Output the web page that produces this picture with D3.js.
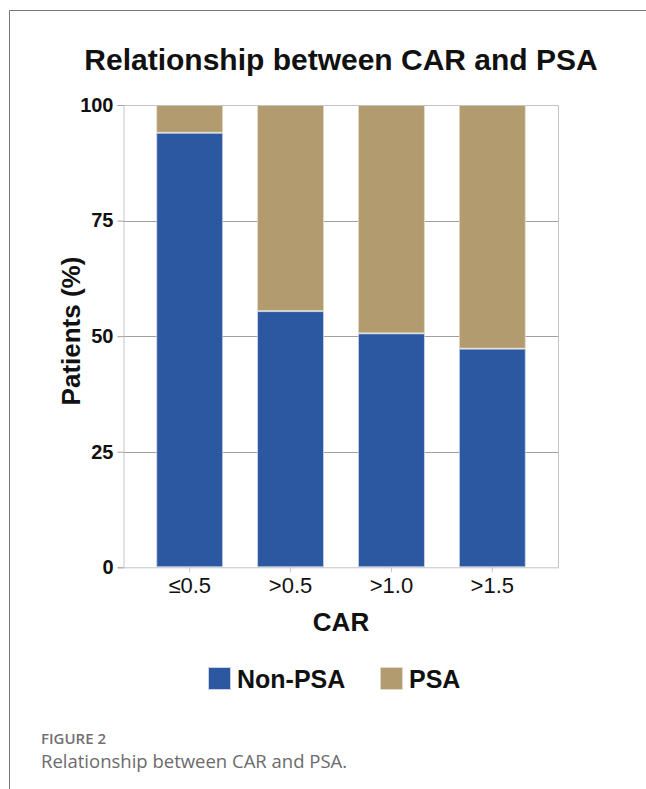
<!DOCTYPE html>
<html><head><meta charset="utf-8">
<script src="https://cdn.jsdelivr.net/npm/d3@7"></script>
<style>html,body{margin:0;padding:0;background:#fff;}svg{display:block;}</style>
</head><body><svg id="c" width="646" height="789"></svg>
<script>
const categories = ["≤0.5", ">0.5", ">1.0", ">1.5"];
const nonPSA = [94.0, 55.4, 50.6, 47.3];
const psa = [6.0, 44.6, 49.4, 52.7];
const seriesNames = ["Non-PSA", "PSA"];
const yTicks = [0, 25, 50, 75, 100];

const colors = {"Non-PSA": "#2c58a1", "PSA": "#b39b70"};
const strokes = {"Non-PSA": "#c9d3e6", "PSA": "#e2d9c6"};

const svg = d3.select("#c");
const L = 123, R = 559, T = 105, B = 567.3;
const font = "'Liberation Sans', Arial, sans-serif";

// frame
svg.append("line").attr("x1", 9.5).attr("x2", 646).attr("y1", 10.5).attr("y2", 10.5).attr("stroke", "#777").attr("stroke-width", 1);
svg.append("line").attr("x1", 9.5).attr("x2", 9.5).attr("y1", 10.5).attr("y2", 789).attr("stroke", "#777").attr("stroke-width", 1);

const x = d3.scaleBand().domain(categories).range([L, R]).paddingInner(0.337).paddingOuter(0.33);
const y = d3.scaleLinear().domain([0, 100]).range([B, T]);

// gridlines
svg.append("g").selectAll("line").data(yTicks.filter(v => v > 0 && v < 100)).join("line")
  .attr("x1", L).attr("x2", R).attr("y1", d => Math.round(y(d)) + 0.5).attr("y2", d => Math.round(y(d)) + 0.5)
  .attr("stroke", "#a0a0a0").attr("stroke-width", 1);

// stacked data
const rows = categories.map((c, i) => ({cat: c, "Non-PSA": nonPSA[i], "PSA": psa[i]}));
const stack = d3.stack().keys(seriesNames)(rows);
svg.append("g").selectAll("g").data(stack).join("g")
  .attr("fill", d => colors[d.key]).attr("stroke", d => strokes[d.key]).attr("stroke-width", 0.8)
  .selectAll("rect").data(d => d).join("rect")
  .attr("x", d => x(d.data.cat) + 0.5).attr("width", x.bandwidth() - 1)
  .attr("y", d => y(Math.min(d[1], 100)) + 0.5).attr("height", d => y(d[0]) - y(Math.min(d[1], 100)) - 1);

// plot border (top, right)
svg.append("path").attr("d", `M${L},${T + 0.5}H${R - 0.5}V${B}`).attr("fill", "none").attr("stroke", "#c4c4c4").attr("stroke-width", 1);

// y axis
const yAxis = d3.axisLeft(y).tickValues(yTicks).tickSize(6).tickPadding(4);
const gy = svg.append("g").attr("transform", `translate(${L + 0.5},0)`).call(yAxis);
gy.select(".domain").attr("stroke", "#c4c4c4");
gy.selectAll(".tick line").attr("stroke", "#a0a0a0");
gy.selectAll(".tick text").attr("font-family", font).attr("font-size", 20).attr("font-weight", "bold").attr("fill", "#111");

// x axis
const xAxis = d3.axisBottom(x).tickSize(5).tickPadding(5);
const gx = svg.append("g").attr("transform", `translate(0,${B})`).call(xAxis);
gx.select(".domain").attr("stroke", "#c4c4c4").attr("d", `M${L},0.5H${R}`);
gx.selectAll(".tick line").attr("stroke", "#c4c4c4");
gx.selectAll(".tick text").attr("font-family", font).attr("font-size", 22).attr("fill", "#111");

// titles
svg.append("text").attr("x", 341).attr("y", 70).attr("text-anchor", "middle")
  .attr("font-family", font).attr("font-size", 30).attr("font-weight", "bold").attr("fill", "#111")
  .text("Relationship between CAR and PSA");
svg.append("text").attr("x", 341).attr("y", 631).attr("text-anchor", "middle")
  .attr("font-family", font).attr("font-size", 26).attr("font-weight", "bold").attr("fill", "#111")
  .text("CAR");
svg.append("text").attr("transform", "translate(80,331) rotate(-90)").attr("text-anchor", "middle")
  .attr("font-family", font).attr("font-size", 26).attr("font-weight", "bold").attr("fill", "#111")
  .text("Patients (%)");

// legend
const legendX = [208, 380];
const lg = svg.append("g").selectAll("g").data(seriesNames).join("g")
  .attr("transform", (d, i) => `translate(${legendX[i]},667)`);
lg.append("rect").attr("x", 0.5).attr("y", 0.5).attr("width", 22).attr("height", 22)
  .attr("fill", d => colors[d]).attr("stroke", d => strokes[d]);
lg.append("text").attr("x", 29).attr("y", 21).attr("font-family", font).attr("font-size", 25)
  .attr("font-weight", "bold").attr("fill", "#111").text(d => d);

// caption
svg.append("text").attr("x", 41).attr("y", 744).attr("font-family", "'Open Sans', sans-serif")
  .attr("font-size", 15).attr("font-weight", 600).attr("fill", "#707070").text("FIGURE 2");
svg.append("text").attr("x", 41).attr("y", 768).attr("font-family", "'Open Sans', sans-serif")
  .attr("font-size", 18.5).attr("fill", "#6b6b6b").text("Relationship between CAR and PSA.");
</script></body></html>
